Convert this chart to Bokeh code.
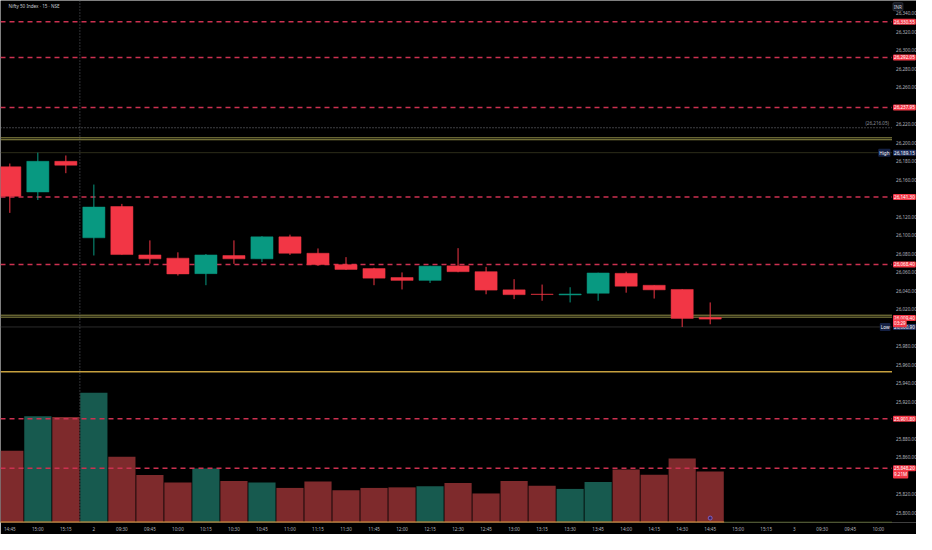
from bokeh.plotting import figure
from bokeh.models import Range1d, FixedTicker, Span, Label, ColumnDataSource
from bokeh.core.properties import value
from bokeh.embed import file_html
from bokeh.resources import INLINE

# ---------------- data ----------------
time_labels = ["14:45", "15:00", "15:15", "2", "09:30", "09:45", "10:00", "10:15", "10:30",
               "10:45", "11:00", "11:15", "11:30", "11:45", "12:00", "12:15", "12:30", "12:45",
               "13:00", "13:15", "13:30", "13:45", "14:00", "14:15", "14:30", "14:45",
               "15:00", "15:15", "3", "09:30", "09:45", "10:00"]

opens  = [26173.9, 26146.7, 26179.8, 26097.2, 26131.0, 26078.7, 26075.2, 26058.5, 26078.0,
          26074.5, 26098.2, 26080.5, 26068.2, 26064.0, 26054.3, 26051.2, 26066.9, 26060.6,
          26041.0, 26036.3, 26035.5, 26037.3, 26058.8, 26045.9, 26041.4, 26011.1]
highs  = [26177.4, 26189.15, 26186.1, 26154.7, 26133.8, 26094.4, 26081.5, 26079.7, 26094.4,
          26099.0, 26100.6, 26085.7, 26076.3, 26064.8, 26059.8, 26067.0, 26086.0, 26065.8,
          26052.5, 26046.7, 26043.8, 26059.5, 26060.6, 26046.0, 26041.6, 26027.4]
lows   = [26124.1, 26138.0, 26167.0, 26078.1, 26079.0, 26069.3, 26056.4, 26046.0, 26069.0,
          26071.0, 26078.7, 26066.9, 26062.4, 26046.0, 26041.4, 26048.4, 26060.0, 26036.2,
          26031.0, 26029.2, 26027.4, 26029.2, 26037.9, 26031.6, 26000.9, 26003.8]
closes = [26142.0, 26179.8, 26175.6, 26130.4, 26079.1, 26074.5, 26058.2, 26078.7, 26074.5,
          26098.2, 26080.5, 26068.2, 26063.0, 26053.6, 26051.2, 26066.6, 26060.6, 26040.7,
          26035.8, 26036.0, 26036.5, 26059.2, 26044.9, 26041.0, 26010.1, 26009.4]
volumes_m = [12.93, 19.17, 19.05, 23.42, 11.88, 8.56, 7.22, 9.73, 7.51, 7.22, 6.24, 7.39, 5.82,
             6.24, 6.34, 6.52, 7.11, 5.24, 7.51, 6.64, 6.06, 7.29, 9.56, 8.62, 11.53, 9.21]

red_levels = [26330.55, 26292.05, 26237.95, 26141.30, 26068.40, 25901.80, 25848.20]
olive_levels = [26205.2, 26203.1, 26013.6, 26011.5]
gold_level = 25952.5
dotted_level = 26216.05
session_high = 26189.15
session_low = 26000.90
last_price = 26009.40
countdown = "03:29"
last_volume_text = "9.21M"
session_break = 2.5
price_ticks = [26340, 26320, 26300, 26280, 26260, 26220, 26200, 26180, 26160, 26120, 26100,
               26080, 26060, 26040, 26020, 25980, 25960, 25940, 25920, 25880, 25860, 25820, 25800]
title_text = "Nifty 50 Index · 15 · NSE"
currency_text = "INR"

# ---------------- styles / geometry ----------------
RED, GREEN = "#f23645", "#089981"
VRED, VGREEN = "#7e2a2c", "#175a4f"
FONT = "Noto Sans"
FS = "4.6px"
W, H = 916, 534
BOTTOM = 11
FRAME_H = H - BOTTOM
X0 = -0.333            # left edge of chart pane (bar index)
X_EDGE = 31.49         # right edge of chart pane / start of price scale
PANE_W = 891.5         # chart pane width in px
X1 = X0 + W * (X_EDGE - X0) / PANE_W
YR = (25789.7, 26353.5)
VR = (0, 94.2)
PX_PER_PT = FRAME_H / (YR[1] - YR[0])
PX_PER_VOL = FRAME_H / (VR[1] - VR[0])

p = figure(width=W, height=H, x_range=Range1d(X0, X1), y_range=Range1d(*YR),
           output_backend="svg", toolbar_location=None, y_axis_location=None,
           min_border_left=0, min_border_top=0, min_border_right=0,
           min_border_bottom=BOTTOM,
           background_fill_color="#000000", border_fill_color="#000000",
           outline_line_color=None)
p.extra_y_ranges = {"vol": Range1d(*VR)}
p.grid.visible = False

ax = p.xaxis[0]
ax.axis_line_color = None
ax.major_tick_line_color = None
ax.minor_tick_line_color = None
ax.major_tick_out = 0
ax.major_tick_in = 0
ax.major_label_text_font_size = FS
ax.major_label_text_color = "#b2b5be"
ax.major_label_text_font = FONT
ax.major_label_standoff = 3
ax.ticker = FixedTicker(ticks=list(range(len(time_labels))))
ax.major_label_overrides = {i: t for i, t in enumerate(time_labels)}

idx = list(range(len(opens)))
up = [c >= o for o, c in zip(opens, closes)]
src = ColumnDataSource(dict(
    x=idx, o=opens, h=highs, l=lows, c=closes, v=volumes_m,
    top=[max(o, c) for o, c in zip(opens, closes)],
    bot=[min(o, c) for o, c in zip(opens, closes)],
    col=[GREEN if u else RED for u in up],
    vcol=[VGREEN if u else VRED for u in up],
))

# volume
p.vbar(x="x", top="v", bottom=0, width=0.97, source=src, fill_color="vcol",
       line_color=None, y_range_name="vol")
p.line(x=[idx[0] - 0.5, idx[-1] + 0.5], y=[0, 0], line_color="#d99a3a", line_width=2,
       y_range_name="vol")
p.line(x=[idx[-1] + 0.5, X_EDGE], y=[0, 0], line_color="#5d6b2a", line_width=1.4,
       y_range_name="vol")
p.scatter(x=[idx[-1]], y=[0.8], marker="circle", size=4, fill_color="#3b2466",
          line_color="#8e6fd6", line_width=0.8, y_range_name="vol")


def hline(levels, color, width, dash="solid"):
    p.segment(x0=[X0] * len(levels), y0=levels, x1=[X_EDGE] * len(levels), y1=levels,
              line_color=color, line_width=width, line_dash=dash)


hline(red_levels, "#cc3150", 1.5, "5 4")
hline(olive_levels, "#938f48", 1)
hline([gold_level], "#c6a03e", 1.3)
hline([dotted_level], "#8d909a", 0.9, "1 2")
hline([session_high], "#38381f", 0.8)
hline([session_low], "#363636", 0.8)
p.add_layout(Span(location=session_break, dimension="height", line_color="#6a6d75",
                  line_width=0.9, line_dash="1 2"))

# candles
p.segment(x0="x", y0="l", x1="x", y1="h", source=src, line_color="col", line_width=1)
p.vbar(x="x", top="top", bottom="bot", width=0.79, source=src, fill_color="col",
       line_color="col", line_width=0.5)

# price scale tick labels
p.text(x=[X_EDGE] * len(price_ticks), y=price_ticks, text=[f"{t:,.2f}" for t in price_ticks],
       x_offset=4, text_align="left", text_baseline="middle", text_font=value(FONT),
       text_font_size=value(FS), text_color="#b2b5be")


def tag(y, text, fill, align="left", xoff=1.0, color="#ffffff", yname="default", border=None):
    lab = Label(x=X_EDGE, y=y, x_offset=xoff, text=text, text_align=align,
                text_baseline="middle", text_font_size=FS, text_font=FONT,
                text_color=color, background_fill_color=fill, padding=1, border_radius=1,
                y_range_name=yname)
    if border:
        lab.border_line_color = border
        lab.border_line_width = 0.6
    p.add_layout(lab)


for lv in red_levels:
    tag(lv, f"{lv:,.2f}", RED)
tag(session_high, "High", "#142043", align="right", xoff=-1.5)
tag(session_high, f"{session_high:,.2f}", "#1d2d5c")
tag(session_low, "Low", "#142043", align="right", xoff=-1.5)
tag(session_low, f"{session_low:,.2f}", "#1d2d5c")
tag(last_price + 1.0 / PX_PER_PT, f"{last_price:,.2f}", RED)
tag(last_price - 4.2 / PX_PER_PT, countdown, RED)
tag(volumes_m[-1] - 3.0 / PX_PER_VOL, last_volume_text, RED, yname="vol")
tag(YR[1] - 6.2 / PX_PER_PT, currency_text, "#131722", color="#d1d4dc", border="#434651")

p.add_layout(Label(x=X_EDGE, y=dotted_level + 5.0 / PX_PER_PT, x_offset=-3,
                   text=f"({dotted_level:,.2f})", text_align="right", text_baseline="middle",
                   text_font_size=FS, text_font=FONT, text_color="#8d909a"))
p.add_layout(Label(x=X0, y=YR[1] - 5.3 / PX_PER_PT, x_offset=8, text=title_text,
                   text_align="left", text_baseline="middle", text_font_size=FS,
                   text_font=FONT, text_color="#c9ccd4"))

open("out.html", "w").write(file_html(p, INLINE))
